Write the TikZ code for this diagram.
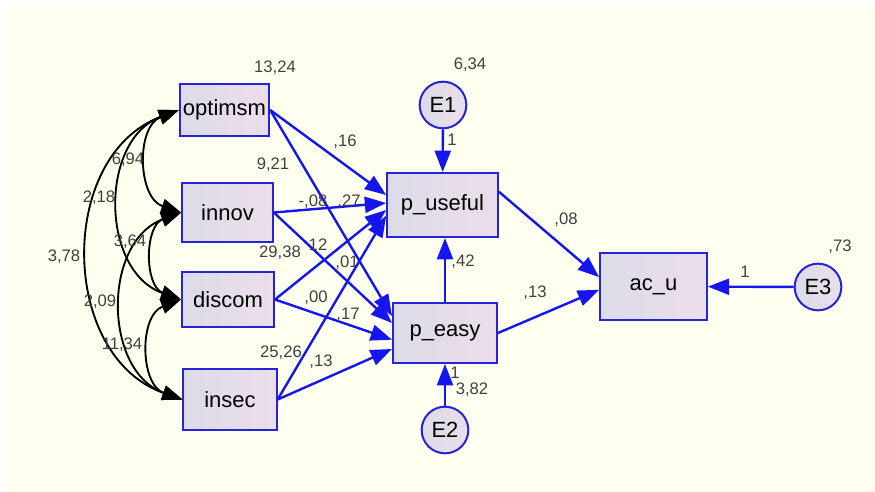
\documentclass[tikz,border=0pt]{standalone}
\usepackage{fontspec}
\setmainfont{Liberation Sans}
\usetikzlibrary{arrows.meta,positioning,calc}
\definecolor{Cream}{HTML}{FFFFF0}
\definecolor{BoxLeft}{HTML}{DCDCE8}
\definecolor{BoxRight}{HTML}{ECDDEA}
\definecolor{EdgeBlue}{HTML}{2424D8}
\definecolor{PathBlue}{HTML}{1515F0}
\definecolor{LabGray}{HTML}{404040}

\begin{document}
\begin{tikzpicture}[x=0.75pt,y=-0.75pt,>=Latex,
    var/.style={draw=EdgeBlue,line width=1.5pt,left color=BoxLeft,right color=BoxRight,inner sep=0pt,font=\fontsize{16.5}{18}\selectfont},
    err/.style={circle,draw=EdgeBlue,line width=1.5pt,left color=BoxLeft,right color=BoxRight,minimum size=35pt,inner sep=0pt,font=\fontsize{16.5}{18}\selectfont},
    reg/.style={-{Triangle[length=16pt,width=12pt]},PathBlue,line width=1.8pt},
    cov/.style={{Triangle[length=15pt,width=11pt]}-{Triangle[length=15pt,width=11pt]},line width=1.4pt,bend right=70,looseness=1.15},
    est/.style={font=\fontsize{12.5}{14}\selectfont,text=LabGray,inner sep=0pt}]
  \useasboundingbox (0,0) rectangle (875,492);
  \fill[Cream] (8,6) rectangle (875,492);

  % observed variables
  \node[var,minimum width=67pt,minimum height=39pt] (optimsm) at (224.5,110) {optimsm};
  \node[var,minimum width=68pt,minimum height=44pt] (innov) at (227.5,212.5) {innov};
  \node[var,minimum width=69pt,minimum height=41pt] (discom) at (228,299.5) {discom};
  \node[var,minimum width=70pt,minimum height=46pt] (insec) at (230,399.5) {insec};
  \node[var,minimum width=83pt,minimum height=48pt] (puseful) at (442.5,205) {p\_useful};
  \node[var,minimum width=78pt,minimum height=45pt] (peasy) at (445,333) {p\_easy};
  \node[var,minimum width=80pt,minimum height=50pt] (acu) at (653.5,286.5) {ac\_u};
  % error terms
  \node[err] (E1) at (443,105) {E1};
  \node[err] (E2) at (445,430) {E2};
  \node[err] (E3) at (818,287) {E3};

  % covariances
  \foreach \a/\b in {optimsm/innov,innov/discom,discom/insec,optimsm/discom,innov/insec,optimsm/insec}
    \draw[cov] (\a.west) to (\b.west);

  % regression paths
  \foreach \s/\u/\e in {optimsm/7.5/12.75,innov/1.5/7.5,discom/-3.75/-5,insec/-8/-12}{
    \draw[reg] (\s.east) -- ([yshift=\u pt]puseful.west);
    \draw[reg] (\s.east) -- ([yshift=\e pt]peasy.west);
  }
  \draw[reg] (E1) -- (puseful);
  \draw[reg] (E2) -- (peasy);
  \draw[reg] (E3) -- (acu);
  \draw[reg] (peasy.north) -- (peasy.north |- puseful.south);
  \draw[reg] ([yshift=10pt]puseful.east) -- ([yshift=7pt]acu.west);
  \draw[reg] (peasy.east) -- ([yshift=-2.5pt]acu.west);

  % estimates
  \foreach \x/\y/\t [count=\k] in {275/68/{13,24},273/165/{9,21},280/253/{29,38},281/353/{25,26},
      470/65/{6,34},452/140/1,345/142/{,16},313/202/{-,08},349/202/{,27},318/245/12,
      347/263/{,01},316/298/{,00},348/315/{,17},321/362/{,13},463/262/{,42},455/373/1,
      472/390/{3,82},535/293/{,13},566/220/{,08},840/247/{,73},745/272/1,
      128/160/{6,94},99/198/{2,18},130/242/{3,64},64/257/{3,78},100/302/{2,09},122/345/{11,34}}
    \node[est] (est\k) at (\x,\y) {\t};
\end{tikzpicture}
\end{document}
